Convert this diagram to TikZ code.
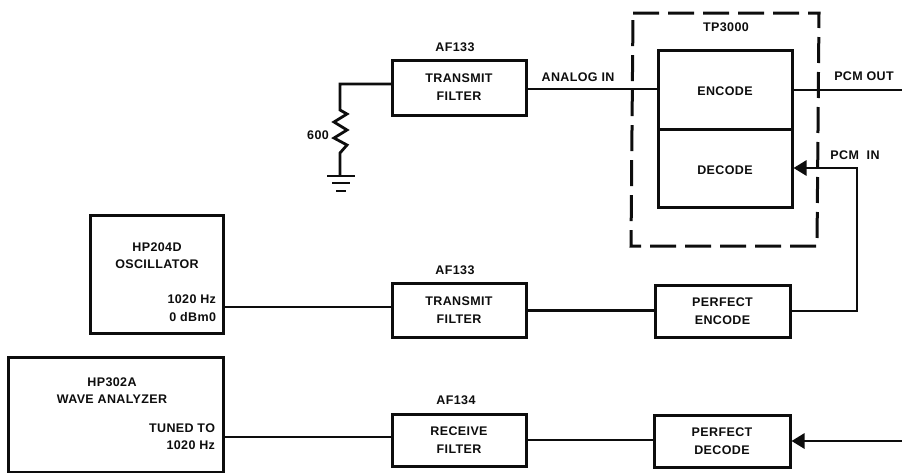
\documentclass[tikz,border=0pt]{standalone}
\usepackage{fontspec}
\setmainfont{Liberation Sans}[LetterSpace=3]
\usetikzlibrary{arrows.meta}
\definecolor{ink}{HTML}{0D0D0D}
\tikzset{
  box/.style={draw=ink,line width=3pt,inner sep=0pt,outer sep=0pt,align=center,text=ink,
    font=\fontsize{12.5}{18}\selectfont\bfseries,
    execute at begin node={\rule{0pt}{13pt}}},
  frame/.style={draw=ink,line width=3pt,inner sep=0pt,outer sep=0pt},
  txt/.style={inner sep=0pt,outer sep=0pt,align=center,text=ink,
    font=\fontsize{12.5}{17.5}\selectfont\bfseries},
  wire/.style={draw=ink,line width=2.8pt,line join=miter},
  arrowwire/.style={wire,-{Triangle[length=13pt,width=15pt]},shorten >=1.5pt},
  dashbox/.style={draw=ink,line width=3pt,dash pattern=on 26pt off 9pt}
}
\begin{document}
\begin{tikzpicture}[x=1pt,y=-1pt]
\useasboundingbox (0,0) rectangle (902,472);
% blocks
\node[box,minimum width=134pt,minimum height=55pt] (tx1) at (459,87.5) {TRANSMIT\\FILTER};
\node[box,minimum width=134pt,minimum height=79pt] (enc) at (725,89.5) {ENCODE};
\node[box,minimum width=134pt,minimum height=78pt] (dec) at (725,168) {DECODE};
\node[box,minimum width=134pt,minimum height=54pt] (tx2) at (459,310.5) {TRANSMIT\\FILTER};
\node[box,minimum width=135pt,minimum height=52pt] (pe) at (722.5,311) {PERFECT\\ENCODE};
\node[box,minimum width=134pt,minimum height=52pt] (rx) at (459,440) {RECEIVE\\FILTER};
\node[box,minimum width=136pt,minimum height=52pt] (pd) at (722,441) {PERFECT\\DECODE};
\node[frame,minimum width=133pt,minimum height=118pt] (osc) at (156.5,274) {};
\node[frame,minimum width=215pt,minimum height=115pt] (wa) at (115.5,414.5) {};
% labels
\node[txt] (l1) at (455,47) {AF133};
\node[txt] (l2) at (455,270) {AF133};
\node[txt] (l3) at (456,400) {AF134};
\node[txt] (l4) at (726,27) {TP3000};
\node[txt] (l5) at (578,77) {ANALOG IN};
\node[txt] (l6) at (864,76) {PCM OUT};
\node[txt] (l7) at (855,155) {PCM\ \ IN};
\node[txt] (l8) at (318,135) {600};
\node[txt] (l9) at (157,255.5) {HP204D\\OSCILLATOR};
\node[txt,align=right,anchor=east] (l10) at (216,308) {1020 Hz\\0 dBm0};
\node[txt] (l11) at (112,390.5) {HP302A\\WAVE ANALYZER};
\node[txt,align=right,anchor=east] (l12) at (215,436.5) {TUNED TO\\1020 Hz};
% dashed outline
\draw[dashbox] (633,13) -- (819,13) -- (817,246) -- (631,246) -- cycle;
% free ends and tap points
\coordinate (rtop) at (340,110);
\coordinate (rbot) at (340,153);
\coordinate (gnd) at (340,176);
\coordinate (corner) at (340,84);
\coordinate (tx1in) at (392,84);
\coordinate (pcmout) at (902,90);
\coordinate (pcmin) at (902,441);
% connectors
\draw[wire] (tx1in) -- (corner) -- (rtop) -- (347,114) -- (334,122) -- (347,130) -- (334,138) -- (347,145) -- (rbot) -- (gnd);
\draw[wire] (327,176) -- (355,176);
\draw[wire] (332,183) -- (350,183);
\draw[wire] (336,191) -- (346,191);
\draw[wire] (tx1.east |- 0,89) -- (enc.west |- 0,89);
\draw[wire] (enc.east |- 0,90) -- (pcmout);
\draw[wire] (osc.east |- 0,307) -- (tx2.west |- 0,307);
\draw[wire] (tx2.east) -- (pe.west |- tx2.east);
\draw[arrowwire] (pe.east) -- (857,311) -- (857,168) -- (dec.east);
\draw[wire] (wa.east |- 0,437) -- (rx.west |- 0,437);
\draw[wire] (rx.east) -- (pd.west |- rx.east);
\draw[arrowwire] (pcmin) -- (pd.east);
\end{tikzpicture}
\end{document}
